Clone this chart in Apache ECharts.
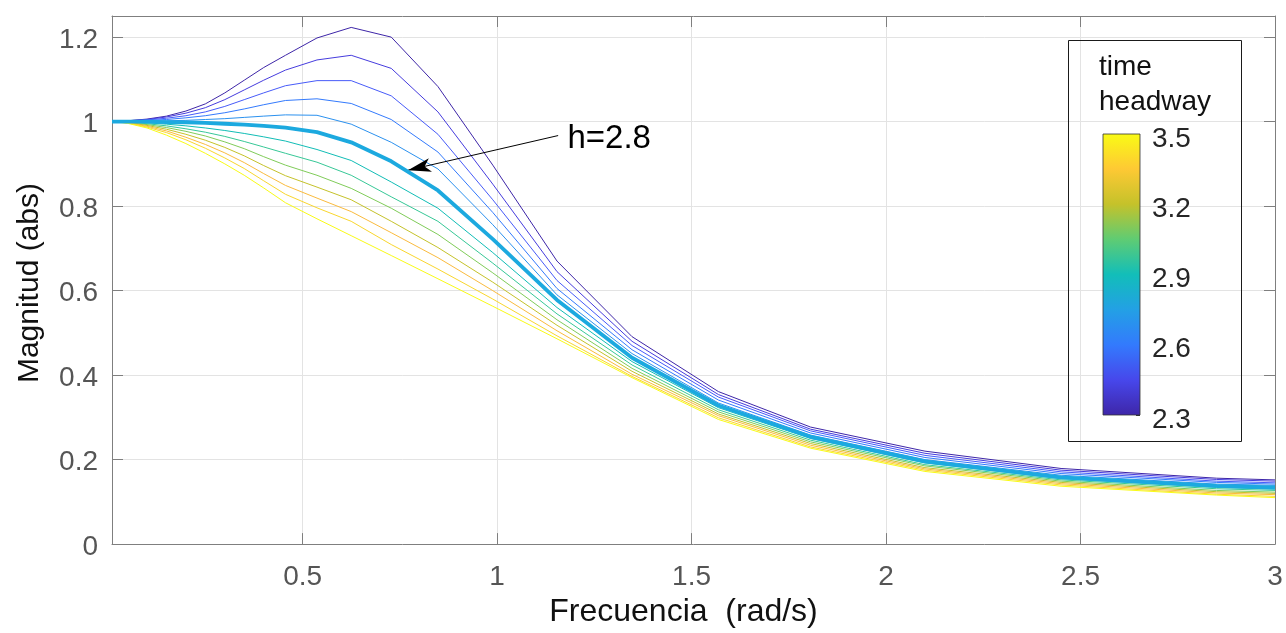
<!DOCTYPE html>
<html>
<head>
<meta charset="utf-8">
<title>Magnitud vs frecuencia</title>
<script src="https://cdn.jsdelivr.net/npm/echarts@6/dist/echarts.min.js"></script>
<style>
  html, body { margin: 0; padding: 0; background: #fff; }
  #chart { width: 1286px; height: 633px; }
</style>
</head>
<body>
<div id="chart"></div>
<script>
// Frequency samples (rad/s)
const freq = [0.01, 0.05, 0.1, 0.15, 0.2, 0.25, 0.3, 0.35, 0.4, 0.456, 0.537, 0.625, 0.728, 0.848, 0.989, 1.154, 1.347, 1.569, 1.806, 2.1, 2.45, 2.85, 3.0];

// Time headway of each curve
const headways = [2.3, 2.4, 2.5, 2.6, 2.7, 2.8, 2.9, 3.0, 3.1, 3.2, 3.3, 3.4, 3.5];

// Magnitude (abs) for each headway
const mag23 = [1.000, 1.002, 1.006, 1.013, 1.025, 1.042, 1.068, 1.098, 1.128, 1.157, 1.198, 1.223, 1.200, 1.083, 0.897, 0.670, 0.491, 0.361, 0.277, 0.220, 0.179, 0.156, 0.152];
const mag24 = [1.000, 1.002, 1.005, 1.011, 1.020, 1.033, 1.052, 1.075, 1.098, 1.122, 1.146, 1.157, 1.126, 1.023, 0.852, 0.645, 0.480, 0.354, 0.272, 0.215, 0.175, 0.153, 0.149];
const mag25 = [1.000, 1.001, 1.004, 1.008, 1.014, 1.023, 1.036, 1.052, 1.068, 1.085, 1.097, 1.097, 1.061, 0.970, 0.815, 0.624, 0.470, 0.348, 0.268, 0.210, 0.171, 0.149, 0.145];
const mag26 = [1.000, 1.001, 1.003, 1.005, 1.009, 1.014, 1.021, 1.030, 1.040, 1.050, 1.054, 1.043, 1.005, 0.928, 0.785, 0.605, 0.460, 0.341, 0.263, 0.205, 0.167, 0.146, 0.142];
const mag27 = [1.000, 1.000, 1.001, 1.002, 1.003, 1.005, 1.007, 1.010, 1.013, 1.016, 1.015, 0.994, 0.951, 0.888, 0.756, 0.590, 0.451, 0.334, 0.258, 0.200, 0.163, 0.142, 0.139];
const mag28 = [1.000, 1.000, 1.000, 0.999, 0.998, 0.997, 0.995, 0.993, 0.990, 0.986, 0.975, 0.951, 0.906, 0.837, 0.722, 0.578, 0.441, 0.328, 0.254, 0.196, 0.158, 0.138, 0.134];
const mag29 = [1.000, 0.999, 0.997, 0.994, 0.990, 0.985, 0.979, 0.972, 0.964, 0.954, 0.934, 0.908, 0.857, 0.795, 0.690, 0.560, 0.432, 0.323, 0.250, 0.192, 0.155, 0.134, 0.130];
const mag30 = [1.000, 0.999, 0.995, 0.990, 0.983, 0.975, 0.965, 0.953, 0.940, 0.925, 0.904, 0.873, 0.822, 0.764, 0.665, 0.545, 0.424, 0.318, 0.246, 0.188, 0.152, 0.131, 0.127];
const mag31 = [1.000, 0.998, 0.993, 0.986, 0.977, 0.966, 0.952, 0.936, 0.917, 0.897, 0.873, 0.842, 0.795, 0.733, 0.642, 0.531, 0.416, 0.313, 0.242, 0.185, 0.149, 0.127, 0.123];
const mag32 = [1.000, 0.998, 0.991, 0.982, 0.970, 0.956, 0.939, 0.919, 0.896, 0.872, 0.845, 0.815, 0.764, 0.702, 0.620, 0.518, 0.409, 0.308, 0.238, 0.181, 0.146, 0.124, 0.120];
const mag33 = [1.000, 0.997, 0.989, 0.978, 0.963, 0.946, 0.926, 0.903, 0.877, 0.849, 0.819, 0.787, 0.737, 0.678, 0.600, 0.505, 0.402, 0.304, 0.234, 0.178, 0.143, 0.121, 0.117];
const mag34 = [1.000, 0.997, 0.987, 0.974, 0.957, 0.937, 0.914, 0.889, 0.860, 0.828, 0.796, 0.764, 0.709, 0.651, 0.580, 0.493, 0.397, 0.299, 0.230, 0.175, 0.140, 0.118, 0.113];
const mag35 = [1.000, 0.996, 0.985, 0.968, 0.948, 0.925, 0.900, 0.873, 0.843, 0.808, 0.770, 0.730, 0.683, 0.628, 0.563, 0.486, 0.394, 0.295, 0.227, 0.172, 0.137, 0.116, 0.110];

const magnitudes = [mag23, mag24, mag25, mag26, mag27, mag28, mag29, mag30, mag31, mag32, mag33, mag34, mag35];

// Axis ticks
const xTicks = [0.5, 1, 1.5, 2, 2.5, 3];
const yTicks = [0, 0.2, 0.4, 0.6, 0.8, 1, 1.2];

// Highlighted curve and its annotation
const highlightH = 2.8;
const noteText = 'h=2.8';
const noteFrom = [1.157, 0.967];
const noteTo = [0.771, 0.885];
const notePos = [1.181, 0.960];

// Colour bar range
const cbMin = 2.3, cbMax = 3.5, cbStep = 0.3;

// parula palette sampled for the 13 headways
const lineColors = ['#3e26a8', '#463cde', '#475bf9', '#337afd', '#2b91ef', '#1ca9df', '#11bdb6',
                    '#37c897', '#80cc59', '#c5c22a', '#fabb3d', '#f9d62d', '#f9fb15'];
const parulaStops = [
  [0, '#3e26a8'], [0.125, '#4747eb'], [0.25, '#337afd'], [0.375, '#23a0e5'],
  [0.5, '#12beb9'], [0.625, '#5fcc73'], [0.75, '#c5c22a'], [0.875, '#fec934'], [1, '#f9fb15']
];

const FONT = '"Liberation Sans", Arial, Helvetica, sans-serif';
const AXIS_GRAY = '#7f7f7f';
const LABEL_GRAY = '#555555';

// Filled arrow head with a notched back; its tip sits at the symbol centre
const ARROW_HEAD = 'path://M0,0 M46,46 M23,23 L30,46 L23,40 L16,46 Z';

const chart = echarts.init(document.getElementById('chart'), null, { renderer: 'canvas' });

const lineSeries = headways.map((h, i) => {
  const thick = h === highlightH;
  const s = {
    name: 'h=' + h.toFixed(1),
    type: 'line',
    xAxisIndex: 0,
    yAxisIndex: 0,
    data: freq.map((f, k) => [f, magnitudes[i][k]]),
    showSymbol: false,
    symbol: 'none',
    smooth: false,
    clip: true,
    silent: true,
    z: thick ? 5 : 3,
    lineStyle: { color: lineColors[i], width: thick ? 3.8 : 1 },
    animation: false
  };
  if (thick) {
    s.markLine = {
      silent: true,
      animation: false,
      symbol: ['none', ARROW_HEAD],
      symbolSize: 46,
      lineStyle: { color: '#000', width: 1, type: 'solid' },
      label: { show: false },
      data: [[{ coord: noteFrom }, { coord: noteTo }]]
    };
    s.markPoint = {
      silent: true,
      animation: false,
      symbol: 'circle',
      symbolSize: 0,
      data: [{
        coord: notePos,
        label: {
          show: true, position: 'right', distance: 0,
          formatter: noteText, fontSize: 33, color: '#000', fontFamily: FONT
        }
      }]
    };
  }
  return s;
});

const colorBarGradient = new echarts.graphic.LinearGradient(0, 1, 0, 0,
  parulaStops.map(s => ({ offset: s[0], color: s[1] })));

const colorBarSeries = {
  type: 'custom',
  xAxisIndex: 2,
  yAxisIndex: 2,
  silent: true,
  animation: false,
  data: [[0, cbMin, cbMax]],
  renderItem: function (params, api) {
    const lo = api.coord([api.value(0), api.value(1)]);
    const hi = api.coord([api.value(0), api.value(2)]);
    const w = api.size([1, 0])[0];
    return {
      type: 'rect',
      shape: { x: lo[0] - w / 2, y: hi[1], width: w, height: lo[1] - hi[1] },
      style: { fill: colorBarGradient, stroke: '#333', lineWidth: 0.8 }
    };
  }
};

const baseX = {
  type: 'value', gridIndex: 0, min: 0.01, max: 3,
  axisLine: { show: true, onZero: false, lineStyle: { color: AXIS_GRAY, width: 1 } },
  axisTick: { show: true, inside: true, length: 11, customValues: xTicks, lineStyle: { color: AXIS_GRAY } },
  axisLabel: { customValues: xTicks, fontSize: 28, color: LABEL_GRAY, fontFamily: FONT, margin: 19,
               formatter: v => String(v) },
  splitLine: { show: true, lineStyle: { color: '#e3e3e3', width: 1 } }
};
const baseY = {
  type: 'value', gridIndex: 0, min: 0, max: 1.25,
  axisLine: { show: true, onZero: false, lineStyle: { color: AXIS_GRAY, width: 1 } },
  axisTick: { show: true, inside: true, length: 11, customValues: yTicks, lineStyle: { color: AXIS_GRAY } },
  axisLabel: { customValues: yTicks, fontSize: 28, color: LABEL_GRAY, fontFamily: FONT, margin: 14,
               verticalAlign: 'top', lineHeight: 6,
               formatter: v => String(Math.round(v * 10) / 10) },
  splitLine: { show: true, lineStyle: { color: '#e3e3e3', width: 1 } }
};

const option = {
  backgroundColor: '#ffffff',
  animation: false,
  grid: [
    { left: 112, top: 16, width: 1163, height: 534, containLabel: false },
    { left: 1103, top: 134, width: 37, height: 281, containLabel: false }
  ],
  xAxis: [
    Object.assign({}, baseX, {
      position: 'bottom',
      name: 'Frecuencia  (rad/s)', nameLocation: 'middle', nameGap: 51,
      nameTextStyle: { fontSize: 32, color: '#111', fontFamily: FONT, padding: [0, 20, 0, 0] }
    }),
    Object.assign({}, baseX, {
      position: 'top',
      axisLabel: { show: false },
      splitLine: { show: false }
    }),
    { type: 'category', gridIndex: 1, data: [''], show: false, boundaryGap: true }
  ],
  yAxis: [
    Object.assign({}, baseY, {
      position: 'left',
      name: 'Magnitud (abs)', nameLocation: 'middle', nameGap: 67, nameRotate: 90,
      nameTextStyle: { fontSize: 30, color: '#111', fontFamily: FONT, padding: [0, 6, 0, 0] }
    }),
    Object.assign({}, baseY, {
      position: 'right',
      axisLabel: { show: false },
      splitLine: { show: false }
    }),
    {
      type: 'value', gridIndex: 1, min: cbMin, max: cbMax, interval: cbStep, position: 'right',
      axisLine: { show: false },
      axisTick: { show: true, inside: true, length: 4, lineStyle: { color: '#333' } },
      splitLine: { show: false },
      axisLabel: { fontSize: 28, color: '#262626', fontFamily: FONT, margin: 12,
                   verticalAlign: 'top', lineHeight: 10,
                   formatter: v => v.toFixed(1) }
    }
  ],
  graphic: [
    {
      type: 'rect', z: 10, silent: true,
      shape: { x: 1068.5, y: 40.5, width: 173, height: 401 },
      style: { fill: 'none', stroke: '#1a1a1a', lineWidth: 1 }
    },
    {
      type: 'text', z: 11, silent: true, x: 1099, y: 50,
      style: { text: 'time\nheadway', fontSize: 28, lineHeight: 35, fill: '#111', font: '28px ' + FONT }
    }
  ],
  series: lineSeries.concat([colorBarSeries])
};

chart.setOption(option);
</script>
</body>
</html>
